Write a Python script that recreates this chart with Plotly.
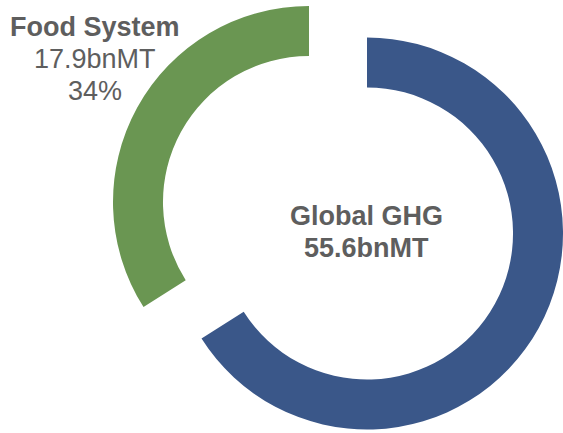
import plotly.graph_objects as go

# Data
segments = ["Rest of Global GHG", "Food System"]
share_pct = [66, 34]
food_bnmt = 17.9
global_bnmt = 55.6
colors_ring = ["#3A5789", "#6A9652"]

W, H = 563, 433

def px_domain(cx, cy, r):
    return dict(x=[(cx - r) / W, min(1.0, (cx + r) / W)],
                y=[max(0.0, (H - cy - r) / H), min(1.0, (H - cy + r) / H)])

R = 196
HOLE = 0.745

fig = go.Figure()
# blue ring (global remainder)
fig.add_trace(go.Pie(
    labels=segments, values=share_pct, sort=False, direction="clockwise", rotation=0,
    hole=HOLE, marker=dict(colors=[colors_ring[0], "rgba(0,0,0,0)"], line=dict(width=0)),
    textinfo="none", hoverinfo="skip", showlegend=False,
    domain=px_domain(367, 233.5, R)))
# green ring (food system, exploded)
fig.add_trace(go.Pie(
    labels=segments, values=share_pct, sort=False, direction="clockwise", rotation=0,
    hole=HOLE, marker=dict(colors=["rgba(0,0,0,0)", colors_ring[1]], line=dict(width=0)),
    textinfo="none", hoverinfo="skip", showlegend=False,
    domain=px_domain(309, 202, R)))

FONT = "Arial, Liberation Sans, sans-serif"
TXT = "#5E5E5E"

def ann(text, x, y, size=27):
    fig.add_annotation(text=text, x=x / W, y=1 - y / H, xref="paper", yref="paper",
                       xanchor="center", yanchor="middle", showarrow=False,
                       font=dict(family=FONT, size=size, color=TXT))

ann("<b>Food System</b>", 95, 27)
ann(f"{food_bnmt}bnMT", 95, 59)
ann(f"{share_pct[1]}%", 95, 91)
ann("<b>Global GHG</b>", 366, 216)
ann(f"<b>{global_bnmt}bnMT</b>", 366, 248)

fig.update_layout(width=W, height=H, margin=dict(l=0, r=0, t=0, b=0),
                  paper_bgcolor="white", plot_bgcolor="white")
fig.write_html("out.html")
